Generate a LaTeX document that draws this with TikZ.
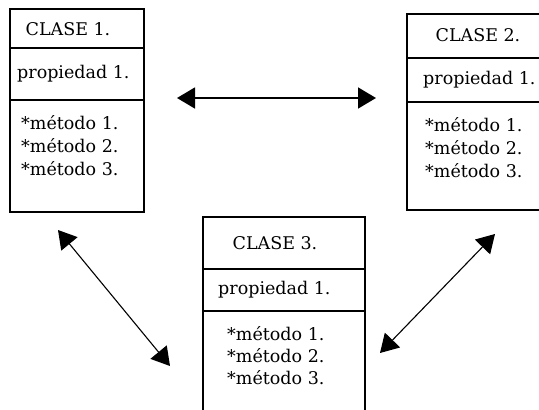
\documentclass[tikz,border=0pt]{standalone}
\usepackage{fontspec}
\setmainfont{DejaVu Serif}
\usetikzlibrary{arrows.meta}
\begin{document}
\begin{tikzpicture}[x=1pt,y=-1pt,
  box/.style={draw=black,line width=1.2pt},
  lbl/.style={inner sep=0pt,font=\fontsize{17.5}{20}\selectfont},
  link/.style={line width=1.1pt,{Triangle[length=18pt,width=21pt]}-{Triangle[length=18pt,width=21pt]}}]
\useasboundingbox (0,0) rectangle (539,410);
\clip (0,0) rectangle (539,410);

% class 1
\draw[box] (10,9) rectangle (144,212);
\draw[box] (10,48) -- (144,48);
\draw[box] (10,100) -- (144,100);
\node[lbl] (c1t) at (68,29) {CLASE 1.};
\node[lbl,anchor=west] (c1p) at (17,74) {propiedad 1.};
\node[lbl,anchor=west] (c1m1) at (21,123) {*método 1.};
\node[lbl,anchor=west] (c1m2) at (21,146) {*método 2.};
\node[lbl,anchor=west] (c1m3) at (21,169) {*método 3.};

% class 2
\draw[box] (407,14) rectangle (560,210);
\draw[box] (407,58) -- (560,58);
\draw[box] (407,102) -- (560,102);
\node[lbl] (c2t) at (478,35) {CLASE 2.};
\node[lbl,anchor=west] (c2p) at (423,80) {propiedad 1.};
\node[lbl,anchor=west] (c2m1) at (425,125) {*método 1.};
\node[lbl,anchor=west] (c2m2) at (425,148) {*método 2.};
\node[lbl,anchor=west] (c2m3) at (425,171) {*método 3.};

% class 3
\draw[box] (203,217) rectangle (365,430);
\draw[box] (203,269) -- (365,269);
\draw[box] (203,311) -- (365,311);
\node[lbl] (c3t) at (275,243) {CLASE 3.};
\node[lbl,anchor=west] (c3p) at (218,290) {propiedad 1.};
\node[lbl,anchor=west] (c3m1) at (227,334) {*método 1.};
\node[lbl,anchor=west] (c3m2) at (227,356) {*método 2.};
\node[lbl,anchor=west] (c3m3) at (227,378) {*método 3.};

% associations
\coordinate (a12l) at (177,98);
\coordinate (a12r) at (376,98);
\coordinate (a13a) at (58,230);
\coordinate (a13b) at (170,366);
\coordinate (a23a) at (495,234);
\coordinate (a23b) at (380,353);
\draw[link,line width=1.6pt] (a12l) -- (a12r);
\draw[link] (a13a) -- (a13b);
\draw[link] (a23a) -- (a23b);
\end{tikzpicture}
\end{document}
